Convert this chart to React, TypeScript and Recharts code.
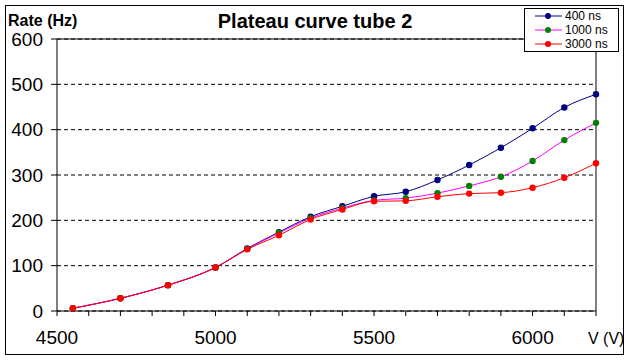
import React from 'react';
import { LineChart, Line, XAxis, YAxis, CartesianGrid, ReferenceLine } from 'recharts';

// voltage steps (V)
const VOLTAGES = [4550, 4700, 4850, 5000, 5100, 5200, 5300, 5400, 5500, 5600, 5700, 5800, 5900, 6000, 6100, 6200];

// rate (Hz) per gate width
const RATE_400 = [6, 28, 57, 96, 138, 174, 208, 231, 253, 263, 289, 322, 360, 403, 449, 478];
const RATE_1000 = [6, 28, 57, 96, 137, 172, 205, 227, 244, 249, 260, 276, 296, 331, 377, 415];
const RATE_3000 = [6, 28, 57, 96, 136, 167, 202, 224, 242, 243, 252, 259, 261, 272, 294, 326];

const X_TICKS = [4500, 4600, 4700, 4800, 4900, 5000, 5100, 5200, 5300, 5400, 5500, 5600, 5700, 5800, 5900, 6000, 6100, 6200];
const X_LABELS = [4500, 5000, 5500, 6000];
const Y_TICKS = [0, 100, 200, 300, 400, 500, 600];

const SERIES = [
    { key: 'r400', name: '400 ns', line: '#000080', marker: '#000080' },
    { key: 'r1000', name: '1000 ns', line: '#FF00FF', marker: '#008000' },
    { key: 'r3000', name: '3000 ns', line: '#FF0000', marker: '#FF0000' },
];

const data = VOLTAGES.map((v, i) => ({
    v,
    r400: RATE_400[i],
    r1000: RATE_1000[i],
    r3000: RATE_3000[i],
}));

const FONT = '"Liberation Sans", Arial, sans-serif';

const XTick = (props: any) => {
    const { x, y, payload } = props;
    if (!X_LABELS.includes(payload.value)) return null;
    return (
        <text x={x} y={y + 26} textAnchor="middle" fill="#000" fontSize={19} fontFamily={FONT}>
            {payload.value}
        </text>
    );
};

export default function App() {
    return (
        <div style={{ position: 'absolute', left: 0, top: 0, width: 636, height: 361, background: '#fff', fontFamily: FONT }}>
            <div style={{ position: 'absolute', left: 5, top: 5, width: 619, height: 350, border: '1px solid #000', boxSizing: 'border-box' }} />
            <LineChart width={636} height={361} data={data} margin={{ top: 39, right: 40, left: 0, bottom: 10 }}>
                <CartesianGrid vertical={false} stroke="#000" strokeDasharray="4 3" />
                <XAxis
                    dataKey="v"
                    type="number"
                    domain={[4500, 6200]}
                    ticks={X_TICKS}
                    interval={0}
                    height={40}
                    stroke="#000"
                    tickSize={5}
                    tick={<XTick />}
                />
                <YAxis
                    type="number"
                    domain={[0, 600]}
                    ticks={Y_TICKS}
                    interval={0}
                    width={57}
                    stroke="#000"
                    tickSize={6}
                    tickMargin={8}
                    tick={{ fill: '#000', fontSize: 19, fontFamily: FONT }}
                />
                <ReferenceLine y={600} stroke="#000" />
                <ReferenceLine x={6200} stroke="#000" />
                {SERIES.map(s => (
                    <Line
                        key={s.key}
                        dataKey={s.key}
                        name={s.name}
                        type="monotone"
                        stroke={s.line}
                        strokeWidth={1}
                        dot={{ r: 3.2, fill: s.marker, stroke: s.marker, strokeWidth: 0 }}
                        isAnimationActive={false}
                    />
                ))}
            </LineChart>
            <div style={{ position: 'absolute', left: 0, top: 11, width: 630, textAlign: 'center', fontSize: 20, lineHeight: '20px', fontWeight: 'bold' }}>
                Plateau curve tube 2
            </div>
            <div style={{ position: 'absolute', left: 8, top: 13, fontSize: 16, lineHeight: '16px', fontWeight: 'bold' }}>
                Rate (Hz)
            </div>
            <div style={{ position: 'absolute', left: 588, top: 331, fontSize: 16, lineHeight: '16px' }}>
                V (V)
            </div>
            <div style={{ position: 'absolute', left: 524, top: 8, width: 95, height: 44, border: '1px solid #000', boxSizing: 'border-box', background: '#fff' }}>
                {SERIES.map(s => (
                    <div key={s.key} style={{ display: 'flex', alignItems: 'center', height: 14, fontSize: 12, lineHeight: '14px' }}>
                        <svg width={40} height={14}>
                            <line x1={10} x2={37} y1={7} y2={7} stroke={s.line} strokeWidth={1} />
                            <circle cx={23} cy={7} r={3} fill={s.marker} />
                        </svg>
                        <span>{s.name}</span>
                    </div>
                ))}
            </div>
        </div>
    );
}
